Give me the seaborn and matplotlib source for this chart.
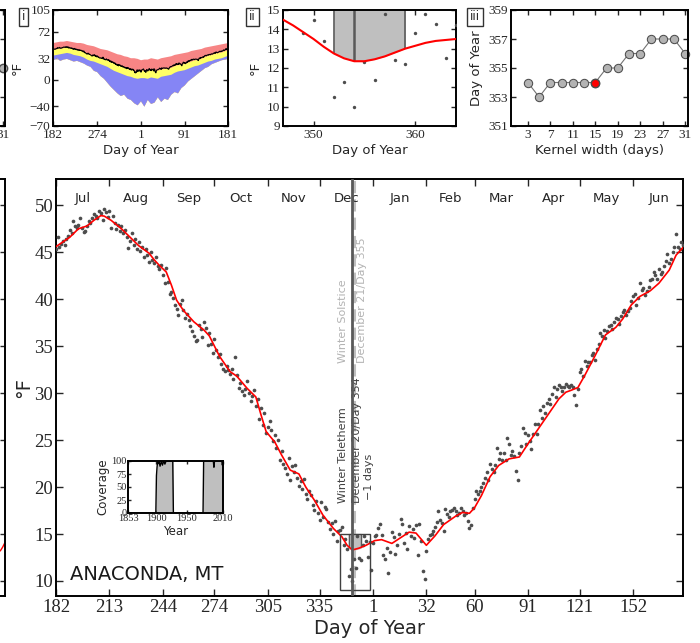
import numpy as np
import pandas as pd
import matplotlib
matplotlib.use("Agg")
from matplotlib import pyplot as plt
from matplotlib.patches import Rectangle
import seaborn as sns

# ---------------- data ----------------
# daily mean temperature (F), day index 0 = 1 July (day 182) ... 364 = 30 June (day 181)
daily_temp = [
    45.3, 46.6, 45.6, 45.9, 46.2, 45.8, 46.4, 46.7, 47.4, 47.1,
    48.3, 47.8, 47.6, 47.9, 48.6, 47.6, 47.2, 47.3, 47.8, 48.3,
    48.1, 48.6, 49.1, 48.9, 48.7, 49.4, 49.2, 48.4, 49.6, 49.3,
    48.8, 49.4, 47.6, 48.9, 48.1, 47.5, 47.9, 47.3, 47.8, 47.0,
    47.4, 46.6, 45.5, 46.2, 47.1, 45.8, 46.4, 45.3, 46.1, 45.1,
    45.6, 44.5, 45.3, 44.7, 44.0, 45.0, 44.2, 43.9, 44.5, 43.5,
    43.2, 43.6, 42.6, 41.7, 43.3, 41.8, 40.6, 40.8, 40.1, 39.4,
    39.0, 38.3, 39.5, 39.9, 38.9, 38.0, 38.4, 37.8, 37.2, 36.6,
    36.1, 35.6, 35.7, 37.3, 36.8, 36.0, 37.6, 36.9, 35.1, 36.4,
    35.2, 34.3, 35.8, 34.6, 33.8, 34.2, 33.1, 32.6, 32.4, 32.9,
    32.5, 32.0, 32.6, 31.5, 33.9, 31.9, 30.5, 31.1, 30.2, 29.8,
    30.4, 31.3, 30.0, 29.2, 29.7, 30.3, 28.6, 29.4, 27.2, 28.4,
    26.6, 27.9, 25.8, 26.4, 27.0, 26.1, 24.9, 25.5, 24.2, 25.0,
    22.9, 23.8, 22.5, 22.0, 21.4, 23.1, 20.7, 22.2, 21.6, 22.4,
    21.0, 20.1, 20.6, 19.8, 20.9, 19.3, 18.7, 19.6, 19.2, 18.1,
    17.6, 18.5, 17.2, 16.5, 18.4, 16.8, 17.9, 17.7, 16.3, 15.5,
    16.2, 15.0, 16.4, 14.3, 15.3, 15.4, 15.8, 13.8, 14.5, 13.4,
    10.5, 11.3, 10.0, 12.3, 11.4, 14.8, 12.4, 12.2, 13.8, 14.8,
    14.3, 12.5, 14.2, 11.2, 14.0, 14.8, 14.9, 15.6, 16.1, 14.9,
    12.8, 12.3, 13.5, 10.9, 13.1, 15.2, 14.7, 12.9, 13.8, 15.0,
    16.6, 16.1, 14.0, 15.1, 13.4, 15.9, 14.8, 15.5, 14.6, 16.0,
    12.8, 16.1, 14.3, 11.1, 10.2, 13.2, 14.5, 14.9, 15.0, 15.3,
    15.8, 16.3, 17.4, 16.5, 16.2, 15.3, 17.7, 17.1, 16.8, 17.4,
    17.6, 17.8, 17.5, 17.0, 17.2, 17.8, 17.5, 17.0, 17.2, 16.4,
    15.6, 16.0, 17.8, 18.7, 19.6, 19.3, 19.6, 20.0, 20.4, 21.0,
    21.6, 20.8, 22.5, 21.9, 21.6, 22.3, 24.2, 23.0, 23.6, 22.9,
    23.6, 22.9, 25.2, 24.6, 23.4, 23.8, 23.3, 21.7, 20.8, 23.6,
    24.4, 26.3, 25.8, 24.6, 25.5, 24.9, 24.0, 25.6, 26.7, 25.7,
    26.7, 28.2, 27.4, 28.6, 27.9, 28.9, 29.4, 28.8, 29.9, 30.6,
    29.6, 30.4, 30.9, 30.7, 30.2, 30.7, 31.0, 30.8, 30.6, 30.9,
    30.6, 29.8, 28.7, 30.4, 32.3, 32.6, 31.8, 33.4, 32.9, 33.3,
    33.3, 34.1, 34.3, 33.5, 34.7, 35.2, 36.4, 36.1, 36.7, 35.9,
    36.6, 37.1, 37.3, 36.8, 37.6, 38.0, 37.9, 37.4, 38.2, 38.6,
    38.9, 38.3, 38.7, 39.1, 39.8, 40.3, 40.6, 39.4, 40.1, 41.7,
    41.0, 41.2, 40.5, 40.9, 41.3, 42.0, 42.2, 42.9, 42.6, 42.1,
    43.2, 42.7, 42.9, 43.5, 44.1, 44.8, 43.9, 44.3, 45.0, 45.6,
    46.9, 45.6, 45.3, 46.1, 45.8,
]

# smoothed curve (day index from 1 July, F)
curve_idx = [0, 8, 13, 18, 22, 26, 28, 32, 38, 43, 48, 54, 57, 60, 64, 67, 70, 74, 80, 86,
             89, 92, 95, 101, 105, 111, 116, 119, 122, 127, 131, 136, 141, 145, 150, 155, 161, 166, 169, 172,
             176, 180, 185, 189, 195, 200, 205, 209, 215, 220, 225, 232, 236, 240, 243, 247, 252, 257, 263, 269,
             274, 280, 286, 292, 296, 299, 303, 307, 313, 319, 325, 329, 334, 339, 345, 350, 356, 360, 364]
curve_temp = [45.6, 46.6, 47.5, 47.8, 48.4, 48.9, 48.85, 48.4, 47.5, 46.6, 45.7, 44.9, 44.2, 43.6, 42.9, 41.5, 39.9, 38.8, 37.6, 36.7,
              36.1, 35.0, 33.9, 32.3, 31.8, 30.5, 29.6, 27.7, 25.9, 24.8, 23.4, 21.8, 21.4, 20.0, 18.6, 17.0, 15.6, 14.7, 13.8, 13.3,
              13.5, 13.8, 14.3, 14.4, 14.0, 14.6, 15.2, 15.1, 13.8, 14.8, 16.0, 16.9, 17.3, 17.2, 17.8, 19.1, 21.1, 22.3, 23.0, 23.2,
              24.6, 26.2, 27.8, 29.4, 30.1, 30.3, 30.6, 31.9, 34.0, 36.2, 37.0, 37.9, 39.4, 40.3, 40.9, 41.7, 43.1, 44.7, 45.5]

# panel ii: zoomed smooth curve, days 347..364
zoom_days = list(range(347, 365))
zoom_curve = [14.5, 14.2, 13.85, 13.5, 13.1, 12.75, 12.5, 12.35, 12.35, 12.45,
              12.6, 12.8, 13.0, 13.15, 13.3, 13.4, 13.45, 13.5]
zoom_temp_range = (9, 15)
kernel_window = (352, 359)
teletherm_day = 354
solstice_day = 355

# panel i: weekly envelopes (index 0, 7, ..., 364 from 1 July)
week_idx = list(range(0, 365, 7))
red_top = [56, 57, 58, 58, 59, 58, 57, 56, 56, 55, 53, 52, 51, 49, 47, 46, 45, 43, 41, 39,
           38, 36, 35, 33, 33, 32, 30, 31, 31, 33, 32, 31, 33, 34, 35, 36, 38, 39, 40, 41,
           42, 44, 45, 46, 47, 49, 50, 51, 52, 53, 54, 55, 56]
yellow_top = [45.6, 46.5, 47.6, 48.3, 48.9, 48.0, 46.8, 45.6, 44.4, 43.1, 39.9, 38.2, 37.0, 35.3, 33.1, 31.8, 30.3, 27.7, 25.0, 22.8,
              21.5, 19.4, 17.3, 15.6, 14.1, 13.5, 14.0, 14.4, 14.1, 15.0, 14.8, 14.2, 15.8, 16.8, 17.3, 18.4, 21.1, 22.5, 23.1, 24.4,
              26.2, 28.1, 29.8, 30.4, 32.2, 34.7, 36.7, 37.9, 39.8, 40.7, 41.7, 43.5, 45.5]
yellow_low = [37, 38, 39, 40, 41, 40, 38, 37, 36, 34, 31, 29, 28, 26, 24, 22, 20, 17, 14, 12,
              10, 8, 6, 5, 3, 2, 3, 3, 2, 4, 3, 2, 5, 6, 7, 8, 11, 13, 14, 15,
              17, 19, 21, 22, 24, 26, 28, 29, 31, 32, 33, 35, 37]
blue_low = [30, 33, 29, 31, 32, 30, 28, 29, 27, 25, 22, 20, 14, 12, 6, 2, -4, -10, -15, -20,
            -24, -22, -28, -30, -35, -38, -32, -40, -30, -36, -34, -26, -33, -28, -30, -22, -18, -20, -12, -8,
            -2, 2, 6, 10, 14, 18, 20, 24, 26, 28, 30, 31, 33]

# panel iii: teletherm day vs kernel width
kernel_width = [3, 5, 7, 9, 11, 13, 15, 17, 19, 21, 23, 25, 27, 29, 31]
teletherm_by_kernel = [354, 353, 354, 354, 354, 354, 354, 355, 355, 356, 356, 357, 357, 357, 356]
chosen_kernel = 15

# inset: coverage
cov_years = [1853, 1899, 1900, 1901, 1902, 1903, 1904, 1906, 1908, 1910, 1912, 1914, 1916, 1920,
             1925, 1927, 1928, 1977, 1978, 1980, 1990, 1994, 1995, 1996, 2005, 2008, 2009, 2010]
cov_vals = [0, 0, 72, 88, 100, 95, 100, 90, 100, 92, 100, 94, 100, 100,
            100, 100, 0, 0, 100, 100, 100, 100, 88, 100, 100, 100, 92, 100]

months = ['Jul', 'Aug', 'Sep', 'Oct', 'Nov', 'Dec', 'Jan', 'Feb', 'Mar', 'Apr', 'May', 'Jun']
month_start = [0, 31, 62, 92, 123, 153, 184, 215, 243, 274, 304, 335, 365]
doy_labels = ['182', '213', '244', '274', '305', '335', '1', '32', '60', '91', '121', '152']

assert len(daily_temp) == 365 and len(curve_idx) == len(curve_temp)

def idx_of(day):
    return (day - 182) % 365

idx = np.arange(365)
df = pd.DataFrame({'idx': idx, 'doy': (idx + 181) % 365 + 1, 'temp': daily_temp})

# ---------------- style ----------------
sns.set_style("ticks")
plt.rcParams['font.family'] = ['DejaVu Sans']
plt.rcParams['xtick.direction'] = 'in'
plt.rcParams['ytick.direction'] = 'in'
plt.rcParams['axes.linewidth'] = 1.4
plt.rcParams['axes.edgecolor'] = 'black'
SERIF = 'Liberation Serif'
W, H = 700, 643

fig = plt.figure(figsize=(7, 6.43), dpi=100)

def box(l, t, r, b):
    return [l / W, 1 - b / H, (r - l) / W, (b - t) / H]

def style(ax, size, length=3.5):
    ax.tick_params(top=True, right=True, labelsize=size, labelfontfamily=SERIF,
                   length=length, width=1, pad=2)

# ---------------- partial panels on the left edge ----------------
ax_tl = fig.add_axes([-0.2, 1 - 126 / H, 0.2 + 5 / W, 116 / H])
ax_tl.plot([29, 31], [355, 355], color='0.45', lw=0.8)
ax_tl.plot([31], [355], 'o', ms=6, mfc='0.7', mec='0.3', clip_on=False)
ax_tl.set_xlim(0, 31.5)
ax_tl.set_ylim(351, 359)
ax_tl.set_xticks([31])
ax_tl.set_yticks([351, 353, 355, 357, 359])
ax_tl.set_yticklabels([])
style(ax_tl, 9.5)

ax_bl = fig.add_axes([-0.3, 1 - 596 / H, 0.3 + 5 / W, 417 / H])
ax_bl.plot([356, 360, 364], [13.2, 13.6, 14.1], color='red', lw=1)
ax_bl.set_xlim(0, 364)
ax_bl.set_ylim(8.4, 52.8)
ax_bl.set_yticks(range(10, 55, 5))
ax_bl.set_yticklabels([])
ax_bl.set_xticks([])
style(ax_bl, 9.5)

# ---------------- main panel ----------------
ax = fig.add_axes(box(56, 179, 683, 596))
sns.scatterplot(data=df, x='idx', y='temp', ax=ax, s=7, color='0.3', linewidth=0, zorder=3)
sns.lineplot(x=curve_idx, y=curve_temp, ax=ax, color='red', lw=1.2, zorder=4,
             sort=False, estimator=None)

tele_i, sol_i = idx_of(teletherm_day), idx_of(solstice_day)
k0, k1 = idx_of(kernel_window[0]), idx_of(kernel_window[1])
fx = np.linspace(k0, k1, 40)
fy = np.interp(fx, curve_idx, curve_temp)
ax.fill_between(fx, fy, zoom_temp_range[1], color='0.75', zorder=2)
ax.vlines([k0, k1], [np.interp(k0, curve_idx, curve_temp), np.interp(k1, curve_idx, curve_temp)],
          zoom_temp_range[1], color='0.35', lw=1, zorder=2)
ax.add_patch(Rectangle((idx_of(zoom_days[0]), zoom_temp_range[0]),
                       idx_of(zoom_days[-1]) - idx_of(zoom_days[0]),
                       zoom_temp_range[1] - zoom_temp_range[0],
                       fill=False, ec='0.25', lw=1, zorder=5))
ax.axvline(sol_i, color='0.75', lw=2.2, ls=(0, (4, 2)), zorder=1)
ax.axvline(tele_i, color='0.35', lw=2.0, zorder=6)

ax.text(166.9, 33.2, 'Winter Solstice', rotation=90, ha='center', va='bottom',
        fontsize=8, color='0.7')
ax.text(177.9, 33.2, 'December 21/Day 355', rotation=90, ha='center', va='bottom',
        fontsize=8, color='0.7')
ax.text(166.4, 18.3, 'Winter Teletherm', rotation=90, ha='center', va='bottom',
        fontsize=8, color='0.25')
ax.text(175.0, 18.3, 'December 20/Day 354', rotation=90, ha='center', va='bottom',
        fontsize=8, color='0.25')
ax.text(182.0, 18.6, '\u22121 days', rotation=90, ha='center', va='bottom',
        fontsize=8, color='0.25')

for m, a, b in zip(months, month_start[:-1], month_start[1:]):
    ax.text((a + b) / 2, 50.7, m, ha='center', va='center', fontsize=9.5, color='0.15')

ax.text(8, 10.7, 'ANACONDA, MT', ha='left', va='center', fontsize=14, color='0.1')

ax.set_xlim(0, 364)
ax.set_ylim(8.4, 52.8)
ax.set_xticks(month_start[:-1])
ax.set_xticklabels(doy_labels)
ax.set_yticks(range(10, 55, 5))
style(ax, 13.5, length=5)
ax.set_xlabel('Day of Year', fontsize=14, labelpad=2)
ax.set_ylabel('\u00b0F', fontsize=14, labelpad=1)

# ---------------- inset: coverage ----------------
axc = fig.add_axes(box(128, 461, 223, 513))
axc.fill_between(cov_years, cov_vals, color='0.75', lw=0)
sns.lineplot(x=cov_years, y=cov_vals, ax=axc, color='black', lw=1.0, sort=False, estimator=None)
axc.set_xlim(1853, 2010)
axc.set_ylim(0, 100)
axc.set_xticks([1853, 1900, 1950, 2010])
axc.set_yticks([0, 25, 50, 75, 100])
style(axc, 7.5, length=2)
axc.tick_params(pad=1)
axc.set_xlabel('Year', fontsize=8.5, labelpad=1)
axc.set_ylabel('Coverage', fontsize=8.5, labelpad=1)

# ---------------- panel i ----------------
ax1 = fig.add_axes(box(53, 10, 228, 126))
ax1.fill_between(week_idx, blue_low, red_top, color='#f78585', lw=0)
ax1.fill_between(week_idx, blue_low, yellow_top, color='#ffff66', lw=0)
ax1.fill_between(week_idx, blue_low, yellow_low, color='#8585f5', lw=0)
sns.lineplot(data=df, x='idx', y='temp', ax=ax1, color='black', lw=0.8, estimator=None)
ax1.set_xlim(0, 364)
ax1.set_ylim(-70, 105)
ax1.set_xticks([0, 92, 184, 274, 364])
ax1.set_xticklabels(['182', '274', '1', '91', '181'])
ax1.set_yticks([-70, -40, 0, 32, 72, 105])
style(ax1, 9.5)
ax1.set_xlabel('Day of Year', fontsize=9.5, labelpad=2)
ax1.set_ylabel('\u00b0F', fontsize=9.5, labelpad=4)

# ---------------- panel ii ----------------
ax2 = fig.add_axes(box(283, 10, 456, 126))
kx = np.linspace(kernel_window[0], kernel_window[1], 40)
ky = np.interp(kx, zoom_days, zoom_curve)
ax2.fill_between(kx, ky, zoom_temp_range[1], color='0.75', lw=0)
ax2.vlines([kernel_window[0], kernel_window[1]],
           [np.interp(kernel_window[0], zoom_days, zoom_curve),
            np.interp(kernel_window[1], zoom_days, zoom_curve)],
           zoom_temp_range[1], color='0.35', lw=1.2)
ax2.vlines(teletherm_day, np.interp(teletherm_day, zoom_days, zoom_curve),
           zoom_temp_range[1], color='0.35', lw=1.8)
sns.scatterplot(data=df, x='doy', y='temp', ax=ax2, s=6, color='0.3', linewidth=0, zorder=3)
sns.lineplot(x=zoom_days, y=zoom_curve, ax=ax2, color='red', lw=1.5, zorder=4, estimator=None)
ax2.set_xlim(347, 364)
ax2.set_ylim(*zoom_temp_range)
ax2.set_xticks([350, 360])
ax2.set_yticks(range(9, 16))
style(ax2, 9.5)
ax2.set_xlabel('Day of Year', fontsize=9.5, labelpad=2)
ax2.set_ylabel('\u00b0F', fontsize=9.5, labelpad=4)

# ---------------- panel iii ----------------
ax3 = fig.add_axes(box(511, 10, 688, 126))
sns.lineplot(x=kernel_width, y=teletherm_by_kernel, ax=ax3, color='0.45', lw=0.8,
             marker='o', markersize=6, markerfacecolor='0.7', markeredgecolor='0.3',
             estimator=None)
ci = kernel_width.index(chosen_kernel)
ax3.plot([chosen_kernel], [teletherm_by_kernel[ci]], 'o', ms=6, mfc='red', mec='0.3', zorder=5)
ax3.set_xlim(0, 31.5)
ax3.set_ylim(351, 359)
ax3.set_xticks(kernel_width[::2])
ax3.set_yticks([351, 353, 355, 357, 359])
style(ax3, 9.5)
for c in ax3.lines:
    c.set_clip_on(False)
ax3.set_xlabel('Kernel width (days)', fontsize=9.5, labelpad=2)
ax3.set_ylabel('Day of Year', fontsize=9.5, labelpad=4)

# ---------------- panel tags ----------------
for tag, x in [('i', 23.5), ('ii', 252.5), ('iii', 475)]:
    fig.text(x / W, 1 - 17 / H, tag, ha='center', va='center', fontsize=8.5,
             bbox=dict(boxstyle='square,pad=0.25', fc='white', ec='0.2', lw=1))

fig.savefig('out.png', dpi=100)
